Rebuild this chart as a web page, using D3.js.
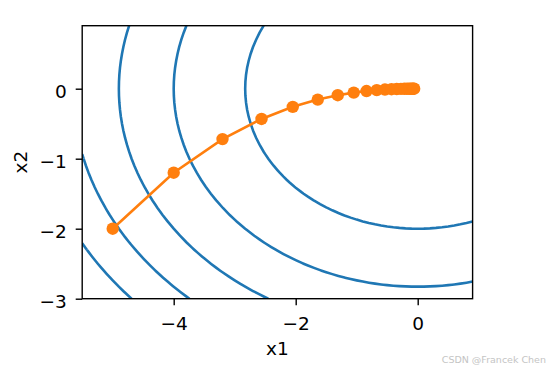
<!DOCTYPE html>
<html>
<head>
<meta charset="utf-8">
<script src="https://cdn.jsdelivr.net/npm/d3@7"></script>
<style>
  body { margin: 0; background: #fff; }
  svg text { font-family: "DejaVu Sans", sans-serif; }
</style>
</head>
<body>
<div id="chart"></div>
<script>
// contour levels of f(x1, x2) = x1^2 + 2 * x2^2
var levels = [8, 16, 24, 32, 40, 48];
// grid the contour is evaluated on (like np.arange(-5.5, 1.0, 0.1), np.arange(-3.0, 1.0, 0.1))
var gridX1 = d3.range(-5.5, 0.95, 0.1);
var gridX2 = d3.range(-3.0, 0.95, 0.1);
// gradient descent trajectory
var x1Values = [-5, -4, -3.2, -2.56, -2.048, -1.6384, -1.3107, -1.0486, -0.8389, -0.6711, -0.5369,
  -0.4295, -0.3436, -0.2749, -0.2199, -0.1759, -0.1407, -0.1126, -0.0901, -0.0721, -0.0576];
var x2Values = [-2, -1.2, -0.72, -0.432, -0.2592, -0.1555, -0.0933, -0.056, -0.0336, -0.0202, -0.0121,
  -0.0073, -0.0044, -0.0026, -0.0016, -0.0009, -0.0006, -0.0003, -0.0002, -0.0001, -0.0001];
var xTicks = [-4, -2, 0];
var yTicks = [-3, -2, -1, 0];

var width = 550, height = 371;
var margin = {top: 25.7, right: 77.4, bottom: 72.3, left: 82.2};
var w = width - margin.left - margin.right;
var h = height - margin.top - margin.bottom;

var svg = d3.select('#chart').append('svg').attr('width', width).attr('height', height);
var g = svg.append('g').attr('transform', 'translate(' + margin.left + ',' + margin.top + ')');

var x = d3.scaleLinear().domain([-5.5, 0.9]).range([0, w]);
var y = d3.scaleLinear().domain([-3.0, 0.9]).range([h, 0]);

g.append('clipPath').attr('id', 'clip')
  .append('rect').attr('width', w).attr('height', h);

// field values, row-major with x2 increasing
var nx = gridX1.length, ny = gridX2.length;
var values = [];
gridX2.forEach(function (b) {
  gridX1.forEach(function (a) {
    values.push(a * a + 2 * b * b);
  });
});

var contours = d3.contours().size([nx, ny]).thresholds(levels)(values);

// grid points sit at index + 0.5 in d3.contours coords
function gx(i) { return x(gridX1[0] + (i - 0.5) * 0.1); }
function gy(j) { return y(gridX2[0] + (j - 0.5) * 0.1); }

function onEdge(p) {
  return p[0] <= 0.5 || p[0] >= nx - 0.5 || p[1] <= 0.5 || p[1] >= ny - 0.5;
}

// keep only the iso line, not the polygon border along the grid edge
function isoLines(rings) {
  var lines = [];
  rings.forEach(function (ring) {
    var cur = [];
    ring.forEach(function (p) {
      if (onEdge(p)) {
        if (cur.length) { cur.push(p); lines.push(cur); }
        cur = [p];
      } else {
        cur.push(p);
      }
    });
    if (cur.length > 1) lines.push(cur);
  });
  return lines;
}

var line = d3.line().x(function (p) { return gx(p[0]); }).y(function (p) { return gy(p[1]); });

var cg = g.append('g').attr('clip-path', 'url(#clip)');
contours.forEach(function (c) {
  c.coordinates.forEach(function (poly) {
    isoLines(poly).forEach(function (pts) {
      if (pts.length < 2) return;
      if (!pts.some(function (p) { return !onEdge(p); })) return;
      cg.append('path')
        .attr('d', line(pts))
        .attr('fill', 'none')
        .attr('stroke', '#1f77b4')
        .attr('stroke-width', 2.6);
    });
  });
});

// trajectory
var traj = x1Values.map(function (v, i) { return [v, x2Values[i]]; });
g.append('path')
  .datum(traj)
  .attr('fill', 'none')
  .attr('stroke', '#ff7f0e')
  .attr('stroke-width', 2.6)
  .attr('d', d3.line().x(function (d) { return x(d[0]); }).y(function (d) { return y(d[1]); }));

g.append('g').selectAll('circle')
  .data(traj)
  .enter().append('circle')
  .attr('cx', function (d) { return x(d[0]); })
  .attr('cy', function (d) { return y(d[1]); })
  .attr('r', 6.2)
  .attr('fill', '#ff7f0e');

// axes
var fmt = function (d) { return d < 0 ? '\u2212' + Math.abs(d) : String(d); };
var xAxis = g.append('g')
  .attr('transform', 'translate(0,' + h + ')')
  .call(d3.axisBottom(x).tickValues(xTicks).tickFormat(fmt).tickSize(6.5).tickPadding(11.5));
var yAxis = g.append('g')
  .call(d3.axisLeft(y).tickValues(yTicks).tickFormat(fmt).tickSize(6.5).tickPadding(9));
[xAxis, yAxis].forEach(function (a) {
  a.select('.domain').remove();
  a.selectAll('.tick line').attr('stroke', '#000').attr('stroke-width', 1.4);
  a.selectAll('.tick text').attr('fill', '#000').attr('font-size', 18.5);
});
yAxis.selectAll('.tick text').attr('dy', '0.45em');

g.append('rect')
  .attr('width', w).attr('height', h)
  .attr('fill', 'none').attr('stroke', '#000').attr('stroke-width', 1.4);

g.append('text')
  .attr('x', w / 2).attr('y', h + 56.5)
  .attr('text-anchor', 'middle')
  .attr('font-size', 18.5)
  .text('x1');

g.append('text')
  .attr('transform', 'rotate(-90)')
  .attr('x', -h / 2).attr('y', -55.5)
  .attr('text-anchor', 'middle')
  .attr('font-size', 18.5)
  .text('x2');

svg.append('text')
  .attr('x', 546).attr('y', 363)
  .attr('text-anchor', 'end')
  .attr('font-size', 9.5)
  .attr('fill', '#c4c4c4')
  .text('CSDN @Francek Chen');
</script>
</body>
</html>
